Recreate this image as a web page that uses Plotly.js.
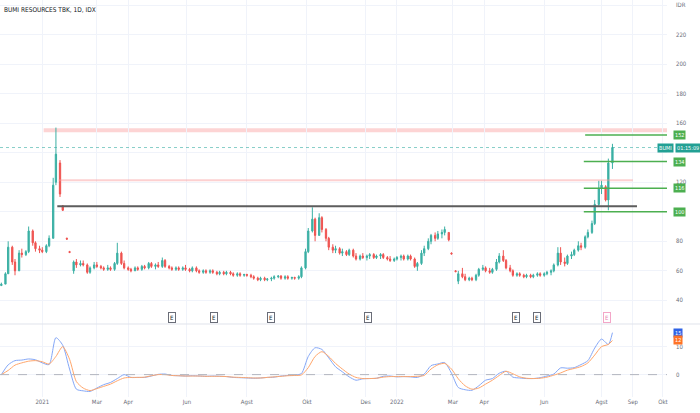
<!DOCTYPE html>
<html><head><meta charset="utf-8">
<script src="https://cdn.plot.ly/plotly-3.0.1.min.js"></script>
<style>html,body{margin:0;padding:0;background:#fff;}#chart{width:700px;height:413px;}</style>
</head><body><div id="chart"></div>
<script>
// ---- candle data (approx. two sessions per week) ----
const dates = [
'2020-11-23','2020-11-26','2020-11-30','2020-12-03','2020-12-07','2020-12-10','2020-12-14','2020-12-17','2020-12-21','2020-12-24','2020-12-28','2020-12-31',
'2021-01-04','2021-01-07','2021-01-11','2021-01-14','2021-01-18','2021-01-21','2021-01-25','2021-01-28','2021-02-01','2021-02-04','2021-02-08','2021-02-11',
'2021-02-15','2021-02-18','2021-02-22','2021-02-25','2021-03-01','2021-03-04','2021-03-08','2021-03-11','2021-03-15','2021-03-18','2021-03-22','2021-03-25',
'2021-03-29','2021-04-01','2021-04-05','2021-04-08','2021-04-12','2021-04-15','2021-04-19','2021-04-22','2021-04-26','2021-04-29','2021-05-03','2021-05-06',
'2021-05-10','2021-05-13','2021-05-17','2021-05-20','2021-05-24','2021-05-27','2021-05-31','2021-06-03','2021-06-07','2021-06-10','2021-06-14','2021-06-17',
'2021-06-21','2021-06-24','2021-06-28','2021-07-01','2021-07-05','2021-07-08','2021-07-12','2021-07-15','2021-07-19','2021-07-22','2021-07-26','2021-07-29',
'2021-08-02','2021-08-05','2021-08-09','2021-08-12','2021-08-16','2021-08-19','2021-08-23','2021-08-26','2021-08-30','2021-09-02','2021-09-06','2021-09-09',
'2021-09-13','2021-09-16','2021-09-20','2021-09-23','2021-09-27','2021-09-30','2021-10-04','2021-10-07','2021-10-11','2021-10-14','2021-10-18','2021-10-21',
'2021-10-25','2021-10-28','2021-11-01','2021-11-04','2021-11-08','2021-11-11','2021-11-15','2021-11-18','2021-11-22','2021-11-25','2021-11-29','2021-12-02',
'2021-12-06','2021-12-09','2021-12-13','2021-12-16','2021-12-20','2021-12-23','2021-12-27','2021-12-30','2022-01-03','2022-01-06','2022-01-10','2022-01-13',
'2022-01-17','2022-01-20','2022-01-24','2022-01-27','2022-01-31','2022-02-03','2022-02-07','2022-02-10','2022-02-14','2022-02-17','2022-02-21','2022-02-24',
'2022-02-28','2022-03-03','2022-03-07','2022-03-10','2022-03-14','2022-03-17','2022-03-21','2022-03-24','2022-03-28','2022-03-31','2022-04-04','2022-04-07',
'2022-04-11','2022-04-14','2022-04-18','2022-04-21','2022-04-25','2022-04-28','2022-05-02','2022-05-05','2022-05-09','2022-05-12','2022-05-16','2022-05-19',
'2022-05-23','2022-05-26','2022-05-30','2022-06-02','2022-06-06','2022-06-09','2022-06-13','2022-06-16','2022-06-20','2022-06-23','2022-06-27','2022-06-30',
'2022-07-04','2022-07-07','2022-07-11','2022-07-14','2022-07-18','2022-07-21','2022-07-25','2022-07-28','2022-08-01','2022-08-04','2022-08-08','2022-08-11'];

const openP = [
50,51,58,76,66,60,72,71,73,87,79,75,
74,73,77,82,120,133,104,82,73,60,66,64,
65,64,59,62,64,63,62,61,62,61,65,72,
65,62,61,60,62,61,63,62,65,63,64,63,
67,63,62,61,62,61,62,61,60,62,60,59,
60,59,60,59,58,59,58,59,58,57,58,57,
57.5,57,56,55,54,55,54,54.5,55,56,56.5,55,
56,55,55.5,55,56,62,73,87,95,84,96,88,
82,76,74,75,72,73,71,74,70,68,70,69,
70,71,69,70,71,69,68,67,68,69,70,68,
70,68,63,65,72,75,80,84,82,85,86,86,
72,60,53,58,56,54,55,54,57,61,62,60,
59,61,66,70,67,62,60,57,58,57,56,57,
56,57,58,57,58,59,60,64,72,66,65,70,
71,74,77,76,83,86,92,105,116,117,108,133];

const highP = [
52,59,80,77,68,74,75,74,90,88,80,77,
76,78,84,123,157,135,104.5,82.5,73.5,67,68,67,
67,65,63,66,66,64,63,64,63,66,79,73,
67,63,62,63,63,64,64,66,66,65,66,69,
68,64,63,63,63,63,64,62,63,63,61,61,
61,61,61,60,60,60,60,60,59,59,59,58,
58,58,57,56,56,56,55,56,57,57,57,57,
57,56,56,57,63,75,89,103,96,99,97,89,
83,78,77,76,75,74,75,75,72,71,72,71,
72,72,71,72,72,70,70,69,70,71,71,71,
71,69,66,74,77,82,85,86,87,88,90,86,
72.5,60.5,60,62,58,56,56,58,62,64,63,62,
62,68,72,74,68,64,61,59,59,58,58,58,
58,59,59,59,60,61,65,76,76,69,71,73,
75,80,79,84,88,94,108,121,121,118,136,146];

const lowP = [
50,51,58,64,57,60,69,70,72,77,73,72,
72,72,76,82,118,110,100.5,81,72,58,62,63,
63,58,58,61,62,61,60,60,60,60,64,64,
61,60,59,60,60,60,61,61,62,61,62,62,
62,61,60,60,60,60,60,59,59,59,58,58,
58,58,58,57,57,57,57,57,56,56,56,56,
56,55,54,53,53,53,53,53,54,55,54,54,
54,54,54,54,55,61,72,86,80,84,86,80,
74,72,72,71,70,70,70,69,67,67,68,67,
68,68,68,68,68,67,66,66,67,67,67,67,
67,62,60,64,70,74,78,80,81,82,84,80,
71,59,51,55,53,53,53,53,56,60,59,58,
58,60,65,66,61,59,56,56,56,55,55,55,
55,56,56,56,57,57,59,63,64,63,64,68,
70,73,74,75,82,85,91,104,112,107,101,129];

const closeP = [
51,58,76,66,60,72,71,73,87,79,75,74,
73,77,82,118,139,112,101,81.5,72.5,66,64,65,
64,59,62,64,63,62,61,62,61,65,72,65,
62,61,60,62,61,63,62,65,63,64,63,67,
63,62,61,62,61,62,61,60,62,60,59,60,
59,60,59,58,59,58,59,58,57,58,57,57.5,
57,56,55,54,55,54,54.5,55,56,56.5,55,56,
55,55.5,55,56,62,73,87,95,84,96,88,82,
76,74,75,72,73,71,74,70,68,70,69,70,
71,69,70,71,69,68,67,68,69,70,68,70,
68,63,65,72,75,80,84,82,85,86,88,81,
71.5,59.5,58,56,54,55,54,57,61,62,60,59,
61,66,70,67,62,60,57,58,57,56,57,56,
57,58,57,58,59,60,64,72,66,65,70,71,
74,77,76,83,86,92,105,116,118,108,133,143.5];

// ---- oscillator pane (weekly readings) ----
const indDates = [
'2020-11-23','2020-11-30','2020-12-07','2020-12-14','2020-12-21','2020-12-28','2021-01-04','2021-01-11','2021-01-18','2021-01-25',
'2021-02-01','2021-02-08','2021-02-15','2021-02-22','2021-03-01','2021-03-08','2021-03-15','2021-03-22','2021-03-29','2021-04-05',
'2021-04-12','2021-04-19','2021-04-26','2021-05-03','2021-05-10','2021-05-17','2021-05-24','2021-05-31','2021-06-07','2021-06-14',
'2021-06-21','2021-06-28','2021-07-05','2021-07-12','2021-07-19','2021-07-26','2021-08-02','2021-08-09','2021-08-16','2021-08-23',
'2021-08-30','2021-09-06','2021-09-13','2021-09-20','2021-09-27','2021-10-04','2021-10-11','2021-10-18','2021-10-25','2021-11-01',
'2021-11-08','2021-11-15','2021-11-22','2021-11-29','2021-12-06','2021-12-13','2021-12-20','2021-12-27','2022-01-03','2022-01-10',
'2022-01-17','2022-01-24','2022-01-31','2022-02-07','2022-02-14','2022-02-21','2022-02-28','2022-03-07','2022-03-14','2022-03-21',
'2022-03-28','2022-04-04','2022-04-11','2022-04-18','2022-04-25','2022-05-02','2022-05-09','2022-05-16','2022-05-23','2022-05-30',
'2022-06-06','2022-06-13','2022-06-20','2022-06-27','2022-07-04','2022-07-11','2022-07-18','2022-07-25','2022-08-01','2022-08-08','2022-08-11'];

const fastLine = [
0,3.5,5,5.2,5.6,5.3,4.2,3.6,13.2,10.5,
2.0,-5.2,-5.8,-6.0,-4.8,-3.6,-2.8,-1.4,0,-1.0,
-1.0,-1.0,-0.5,0.1,0.2,-0.3,-0.4,-0.5,-0.4,-0.5,
-0.6,-0.5,-0.6,-0.7,-1.0,-1.1,-1.2,-1.3,-1.2,-1.0,
-0.9,-0.5,-0.3,-0.2,0.4,6.5,9.6,9.0,6.0,2.8,
1.0,-0.8,-2.0,-1.5,-1.4,-1.3,-0.6,-0.5,-0.8,-0.7,
-0.8,-1.0,0.2,3.2,3.8,4.3,0.5,-4.6,-5.4,-5.6,
-4.0,-2.0,-1.4,0.5,1.2,-0.9,-1.2,-1.4,-1.4,-1.1,
-0.5,0.2,2.4,2.3,2.5,3.6,5.0,9.5,12.7,10.8,15.0];

const slowLine = [
0,1.5,3.4,4.2,4.8,5.0,4.6,3.8,6.5,10.0,
5.5,-2.5,-4.8,-5.7,-5.0,-4.2,-3.4,-2.2,-1.2,-1.0,
-1.0,-0.9,-0.4,0,0,-0.3,-0.4,-0.5,-0.5,-0.5,
-0.6,-0.6,-0.6,-0.7,-0.9,-1.0,-1.1,-1.2,-1.2,-1.0,
-0.8,-0.6,-0.4,-0.3,-0.1,2.5,6.5,8.2,6.5,4.0,
2.0,0.2,-1.0,-1.4,-1.4,-1.3,-0.9,-0.7,-0.7,-0.7,
-0.7,-0.6,-0.3,2.0,3.5,4.0,2.0,-1.5,-4.0,-5.2,
-4.8,-3.4,-2.0,-0.3,1.2,0.3,-0.8,-1.3,-1.4,-1.3,
-0.9,-0.2,0.6,1.6,2.2,2.9,4.2,7.0,10.0,10.8,12.2];

// ---- axes labels ----
const tickDates = ['2021-01-04','2021-03-01','2021-04-01','2021-06-01','2021-08-02','2021-10-01','2021-12-01','2022-01-03','2022-03-01','2022-04-01','2022-06-02','2022-08-01','2022-09-01','2022-10-03'];
const tickText = ['2021','Mar','Apr','Jun','Agst','Okt','Des','2022','Mar','Apr','Jun','Agst','Sep','Okt'];
const priceTicks = [40,60,80,100,120,140,160,180,200,220,240];
// 100 and 140 sit under the level / last-price labels in the reference
const priceTickText = ['40','60','80','','120','','160','180','200','220','IDR'];

// ---- drawn levels / events ----
const greenLevels = [152,134,116,100];
const greenLevelStart = ['2022-07-14','2022-07-13','2022-07-13','2022-07-13'];
const resistanceBand = [153.8,156.6];
const pinkLevel = 121.4;
const blackLevel = 103.7;
const lastPrice = 143.5;
const earningsDates = ['2021-05-17','2021-06-29','2021-08-26','2021-12-03','2022-05-04','2022-05-26','2022-08-05'];
const title = 'BUMI RESOURCES TBK, 1D, IDX';

const FONT = 'Liberation Sans Narrow, DejaVu Sans Condensed, Roboto, sans-serif';
const GREEN = '#26a69a', RED = '#ef5350', GRID = '#f0f3fa', TXT = '#6a6d78';
const SPLIT = 0.1839;

const traces = [
  {type:'candlestick', x:dates, open:openP, high:highP, low:lowP, close:closeP,
   xaxis:'x', yaxis:'y', whiskerwidth:0, hoverinfo:'skip',
   increasing:{line:{color:'#3bb0a4',width:1}, fillcolor:'#3bb0a4'},
   decreasing:{line:{color:RED,width:1}, fillcolor:RED}},
  {type:'scatter', mode:'lines', x:indDates, y:fastLine, xaxis:'x', yaxis:'y2',
   line:{color:'#84a7f7', width:1, shape:'spline', smoothing:0.7}, hoverinfo:'skip'},
  {type:'scatter', mode:'lines', x:indDates, y:slowLine, xaxis:'x', yaxis:'y2',
   line:{color:'#ffa66b', width:1, shape:'spline', smoothing:0.7}, hoverinfo:'skip'}
];

const shapes = [
  {type:'rect', xref:'x', yref:'y', x0:'2021-01-05', x1:'2022-10-06', y0:resistanceBand[0], y1:resistanceBand[1],
   fillcolor:'rgba(250,160,160,0.45)', line:{width:0}, layer:'below'},
  {type:'line', xref:'paper', yref:'y', x0:0, x1:1, y0:lastPrice, y1:lastPrice,
   line:{color:'rgba(38,166,154,0.55)', width:1, dash:'dot'}},
  {type:'line', xref:'x', yref:'y', x0:'2021-01-20', x1:'2022-09-01', y0:pinkLevel, y1:pinkLevel,
   line:{color:'rgba(250,150,150,0.45)', width:2}},
  {type:'line', xref:'x', yref:'y', x0:'2021-01-19', x1:'2022-09-06', y0:blackLevel, y1:blackLevel,
   line:{color:'#5d5d5d', width:2}},
  {type:'line', xref:'paper', yref:'paper', x0:0, x1:1.06, y0:SPLIT, y1:SPLIT,
   line:{color:'#e0e3eb', width:1}},
  {type:'line', xref:'paper', yref:'y2', x0:0, x1:1, y0:0, y1:0,
   line:{color:'#b2b5be', width:1, dash:'dash'}}
];
greenLevels.forEach((v,i)=>{
  shapes.push({type:'line', xref:'x', yref:'y', x0:greenLevelStart[i], x1:'2022-10-06', y0:v, y1:v,
    line:{color:'#4caf50', width:1.5}});
});

const annotations = [
  {xref:'paper', yref:'paper', x:0, y:1, xanchor:'left', yanchor:'top', xshift:2, yshift:-4,
   text:title, showarrow:false, font:{family:FONT, size:6.5, color:'#131722'}},
  {xref:'paper', yref:'y', x:1, y:lastPrice, xanchor:'right', xshift:7, text:'BUMI', showarrow:false,
   bgcolor:'#22a094', borderpad:1, font:{family:FONT, size:5.5, color:'#fff'}},
  {xref:'paper', yref:'y', x:1, y:lastPrice, xanchor:'left', xshift:8, text:'01:15:09', showarrow:false,
   bgcolor:'#22a094', borderpad:1, font:{family:FONT, size:5.5, color:'#fff'}},
  {xref:'paper', yref:'y2', x:1, y:fastLine[fastLine.length-1], xanchor:'left', xshift:6, text:'15', showarrow:false,
   bgcolor:'#2f63e6', borderpad:1, font:{family:FONT, size:5.5, color:'#fff'}},
  {xref:'paper', yref:'y2', x:1, y:slowLine[slowLine.length-1], xanchor:'left', xshift:6, text:'12', showarrow:false,
   bgcolor:'#ff7326', borderpad:1, font:{family:FONT, size:5.5, color:'#fff'}}
];
greenLevels.forEach(v=>{
  annotations.push({xref:'paper', yref:'y', x:1, y:v, xanchor:'left', xshift:6, text:String(v), showarrow:false,
    bgcolor:'#4caf50', borderpad:1, font:{family:FONT, size:5.5, color:'#fff'}});
});
earningsDates.forEach((d,i)=>{
  const last = i === earningsDates.length-1;
  annotations.push({xref:'x', yref:'y', x:d, y:28.5, text:'E', showarrow:false,
    bgcolor:'#fff', bordercolor: last ? '#f3a6c8' : '#6a6d78', borderwidth:1, borderpad:1,
    font:{family:FONT, size:6, color: last ? '#e684b0' : '#131722'}});
});

const layout = {
  width:700, height:413, margin:{l:0, r:33, t:0, b:16},
  paper_bgcolor:'#fff', plot_bgcolor:'#fff', showlegend:false,
  font:{family:FONT, size:6, color:TXT},
  boxgap:0.55,
  xaxis:{type:'date', range:['2020-11-20','2022-10-06'], rangebreaks:[{bounds:['sat','mon']}],
    tickmode:'array', tickvals:tickDates, ticktext:tickText, showgrid:true, gridcolor:GRID,
    rangeslider:{visible:false}, anchor:'y2', ticks:'', showline:false, zeroline:false,
    tickfont:{family:FONT, size:6, color:TXT}},
  yaxis:{domain:[SPLIT,1], range:[24,243.4], side:'right', anchor:'x', tickmode:'array',
    tickvals:priceTicks, ticktext:priceTickText, gridcolor:GRID, zeroline:false, showline:false,
    ticks:'', ticklabelstandoff:8, tickfont:{family:FONT, size:6, color:TXT}},
  yaxis2:{domain:[0,SPLIT], range:[-8,18.1], side:'right', anchor:'x', tickmode:'array',
    tickvals:[0,10], gridcolor:GRID, zeroline:false, showline:false, ticks:'', ticklabelstandoff:8,
    tickfont:{family:FONT, size:6, color:TXT}},
  shapes:shapes, annotations:annotations
};

Plotly.newPlot('chart', traces, layout, {staticPlot:true, displayModeBar:false});
</script></body></html>
